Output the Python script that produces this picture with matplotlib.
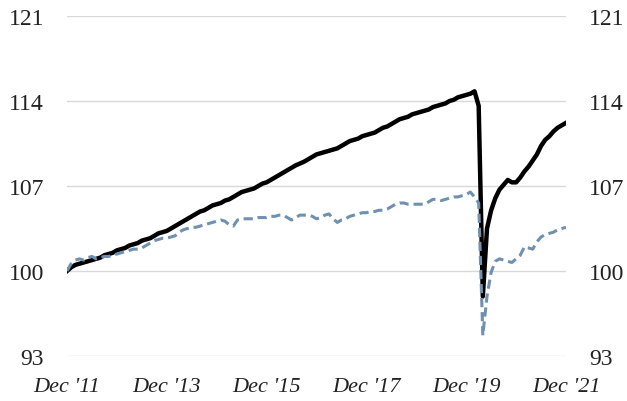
import matplotlib
matplotlib.use("Agg")
import matplotlib.pyplot as plt

# Monthly index values, Dec 2011 = 100 (Dec '11 .. Dec '21)
black_series = [
    100.0, 100.3, 100.5, 100.6, 100.7, 100.8, 100.9, 101.0, 101.1, 101.3, 101.4, 101.5,
    101.7, 101.8, 101.9, 102.1, 102.2, 102.3, 102.5, 102.6, 102.7, 102.9, 103.1, 103.2,
    103.3, 103.5, 103.7, 103.9, 104.1, 104.3, 104.5, 104.7, 104.9, 105.0, 105.2, 105.4,
    105.5, 105.6, 105.8, 105.9, 106.1, 106.3, 106.5, 106.6, 106.7, 106.8, 107.0, 107.2,
    107.3, 107.5, 107.7, 107.9, 108.1, 108.3, 108.5, 108.7, 108.85, 109.0, 109.2, 109.4,
    109.6, 109.7, 109.8, 109.9, 110.0, 110.1, 110.3, 110.5, 110.7, 110.8, 110.9, 111.1,
    111.2, 111.3, 111.4, 111.6, 111.8, 111.9, 112.1, 112.3, 112.5, 112.6, 112.7, 112.9,
    113.0, 113.1, 113.2, 113.3, 113.5, 113.6, 113.7, 113.8, 114.0, 114.1, 114.3, 114.4,
    114.5, 114.6, 114.8, 113.6, 97.9, 103.5, 105.0, 106.0, 106.7, 107.1, 107.5, 107.3,
    107.3, 107.7, 108.2, 108.6, 109.1, 109.6, 110.3, 110.8, 111.1, 111.5, 111.8, 112.0,
    112.2,
]

dashed_series = [
    100.0, 100.6, 100.9, 101.0, 100.9, 101.1, 101.2, 101.0, 101.1, 101.2, 101.2, 101.3,
    101.4, 101.5, 101.6, 101.7, 101.8, 101.8, 101.9, 102.1, 102.3, 102.5, 102.6, 102.7,
    102.7, 102.8, 102.9, 103.2, 103.4, 103.5, 103.6, 103.6, 103.7, 103.8, 103.9, 104.0,
    104.1, 104.2, 104.1, 103.8, 103.7, 104.2, 104.3, 104.3, 104.3, 104.3, 104.4, 104.4,
    104.4, 104.5, 104.5, 104.6, 104.6, 104.4, 104.2, 104.4, 104.6, 104.6, 104.6, 104.5,
    104.3, 104.4, 104.6, 104.7, 104.3, 104.0, 104.2, 104.3, 104.5, 104.6, 104.7, 104.8,
    104.8, 104.9, 104.9, 105.0, 105.0, 105.1, 105.3, 105.5, 105.6, 105.6, 105.5, 105.5,
    105.5, 105.5, 105.5, 105.7, 105.9, 105.9, 105.8, 105.9, 106.0, 106.1, 106.1, 106.2,
    106.3, 106.5, 106.1, 105.6, 94.7, 97.9, 99.9, 100.8, 101.0, 100.9, 100.8, 100.7,
    101.0, 101.3, 102.0, 101.9, 101.8, 102.4, 102.8, 103.0, 103.1, 103.2, 103.4, 103.5,
    103.6,
]

x_tick_labels = ["Dec '11", "Dec '13", "Dec '15", "Dec '17", "Dec '19", "Dec '21"]
x_tick_months = [0, 24, 48, 72, 96, 120]
y_ticks = [93, 100, 107, 114, 121]

plt.rcParams['font.family'] = ['Liberation Serif', 'DejaVu Serif']

fig = plt.figure(figsize=(6.27, 4.02), dpi=100)
ax = fig.add_axes([67 / 627, 1 - 357 / 402, (566 - 67) / 627, (357 - 17) / 402])

months = list(range(len(black_series)))
ax.plot(months, black_series, color="black", lw=3.2, solid_joinstyle="round", zorder=3)
ax.plot(months, dashed_series, color="#6F90AF", lw=2.2, linestyle=(0, (3, 1.6)), zorder=4)

ax.set_xlim(0, 120)
ax.set_ylim(93, 121)
ax.set_yticks(y_ticks)
ax.set_yticklabels([str(v) for v in y_ticks])
ax.set_xticks(x_tick_months)
ax.set_xticklabels(x_tick_labels, fontstyle="italic")

ax.grid(axis="y", color="#D9D9D9", lw=1.0, zorder=0)
ax.grid(axis="x", visible=False)
for s in ax.spines.values():
    s.set_visible(False)

ax.tick_params(axis="y", length=0, labelsize=17, pad=16.5, labelright=True,
               labelcolor="#222222")
ax.tick_params(axis="x", length=0, labelsize=16, pad=15, labelcolor="#222222")

fig.savefig("out.png", dpi=100)
